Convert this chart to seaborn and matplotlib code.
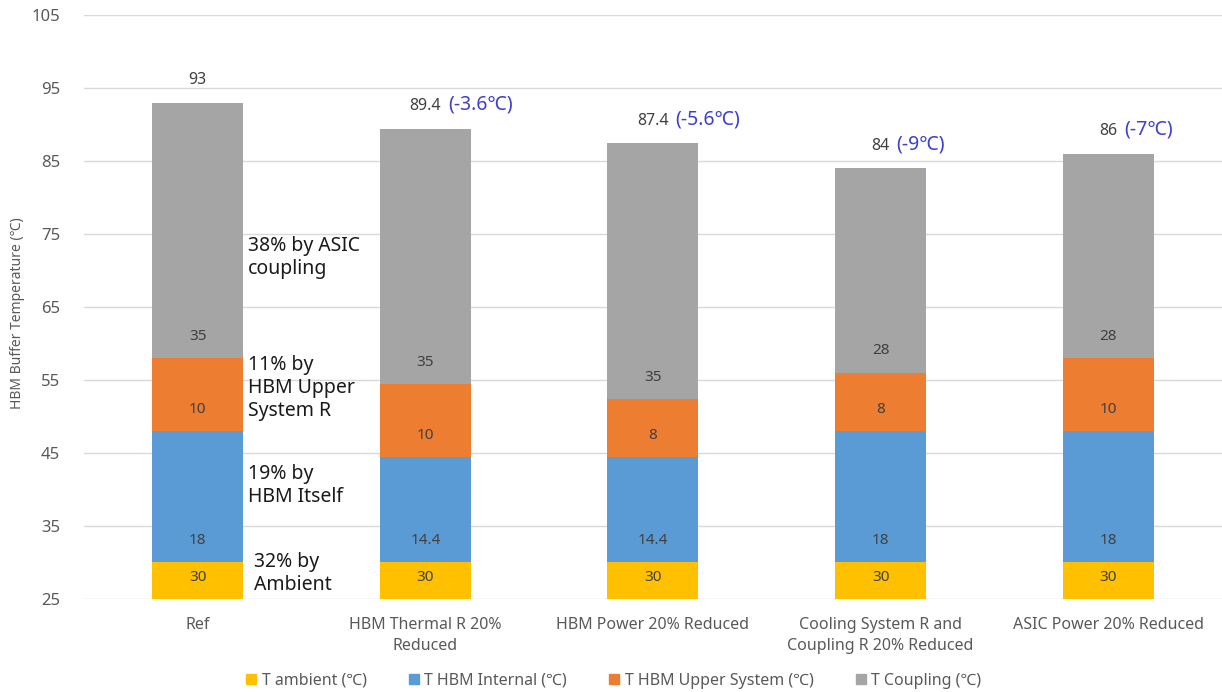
import numpy as np
import pandas as pd
import matplotlib
matplotlib.use("Agg")
import matplotlib.pyplot as plt
import seaborn as sns
from matplotlib.lines import Line2D

# ---- data -------------------------------------------------------------
cases = [
    "Ref",
    "HBM Thermal R 20%\nReduced",
    "HBM Power 20% Reduced",
    "Cooling System R and\nCoupling R 20% Reduced",
    "ASIC Power 20% Reduced",
]
t_ambient = [30, 30, 30, 30, 30]
t_hbm_internal = [18, 14.4, 14.4, 18, 18]
t_hbm_upper = [10, 10, 8, 8, 10]
t_coupling = [35, 35, 35, 28, 28]
totals = [93, 89.4, 87.4, 84, 86]

series_names = ["T ambient (℃)", "T HBM Internal (℃)",
                "T HBM Upper System (℃)", "T Coupling (℃)"]
y_ticks = [25, 35, 45, 55, 65, 75, 85, 95, 105]
contribution_notes = ["38% by ASIC\ncoupling", "11% by\nHBM Upper\nSystem R",
                      "19% by\nHBM Itself", "32% by\nAmbient"]

# ---- style ------------------------------------------------------------
sns.set_theme(style="white")
plt.rcParams["font.family"] = ["Noto Sans", "DejaVu Sans"]

colors = ["#FFC000", "#5B9BD5", "#ED7D31", "#A5A5A5"]
tick_color = "#595959"
label_color = "#404040"
delta_color = "#3F3FD0"
ymin, ymax = 25, 105

layers = np.array([t_ambient, t_hbm_internal, t_hbm_upper, t_coupling], dtype=float)
tops = np.cumsum(layers, axis=0)
bases = tops - layers

fig = plt.figure(figsize=(12.22, 6.92), dpi=100)
ax = fig.add_axes([0.0687, 0.1344, 0.9313, 0.8439])

# stacked bars: draw cumulative heights from the top layer down
for i in range(3, -1, -1):
    df = pd.DataFrame({"case": cases, "value": tops[i]})
    sns.barplot(data=df, x="case", y="value", order=cases, color=colors[i],
                saturation=1, width=0.4, linewidth=0, edgecolor="none",
                ax=ax, zorder=2)

ax.set_ylim(ymin, ymax)
ax.set_xlim(-0.5, len(cases) - 0.5)
ax.set_yticks(y_ticks)
ax.yaxis.grid(True, color="#D9D9D9", linewidth=1.0, zorder=0)
ax.set_axisbelow(True)
for s in ax.spines.values():
    s.set_visible(False)

ax.tick_params(axis="y", length=0, pad=17, labelsize=12, labelcolor=tick_color)
ax.tick_params(axis="x", length=0, pad=13, labelsize=11.5, labelcolor=tick_color)
for lab in ax.get_xticklabels():
    lab.set_linespacing(1.45)
ax.set_xlabel("")
ax.set_ylabel("HBM Buffer Temperature (℃)", fontsize=10, color=tick_color)
ax.yaxis.label.set_verticalalignment("center")
ax.yaxis.set_label_coords(-0.058, 0.49)

# segment value labels, just above each visible segment base
for i in range(4):
    for j in range(len(cases)):
        base = max(bases[i, j], ymin)
        v = layers[i, j]
        ax.text(j, base + 3.0, f"{v:g}", ha="center", va="center",
                fontsize=11, color=label_color, zorder=3)

# totals and change vs. reference
for j, tot in enumerate(totals):
    t = ax.text(j, tot + 3.1, f"{tot:g}", ha="center", va="center",
                fontsize=11.5, color=label_color)
    if j > 0:
        d = tot - totals[0]
        ax.annotate(f"({d:g}℃)", xy=(1, 0.5), xycoords=t,
                    xytext=(5, 1), textcoords="offset points",
                    ha="left", va="center", fontsize=14, color=delta_color)

# contribution notes beside the reference bar
note_pos = [(0.22, 71.8), (0.22, 53.9), (0.22, 40.5), (0.245, 28.5)]
for txt, (x, y) in zip(contribution_notes, note_pos):
    ax.text(x, y, txt, ha="left", va="center", fontsize=14,
            color="#1a1a1a", linespacing=1.2)

handles = [Line2D([], [], marker="s", linestyle="none", color=c,
                  markersize=7) for c in colors]
fig.legend(handles, series_names, loc="center", bbox_to_anchor=(0.502, 0.016),
           ncol=4, frameon=False, handlelength=0.7, handletextpad=0.3,
           columnspacing=2.6, fontsize=11.5, labelcolor=tick_color)

fig.savefig("out.png", dpi=100)
